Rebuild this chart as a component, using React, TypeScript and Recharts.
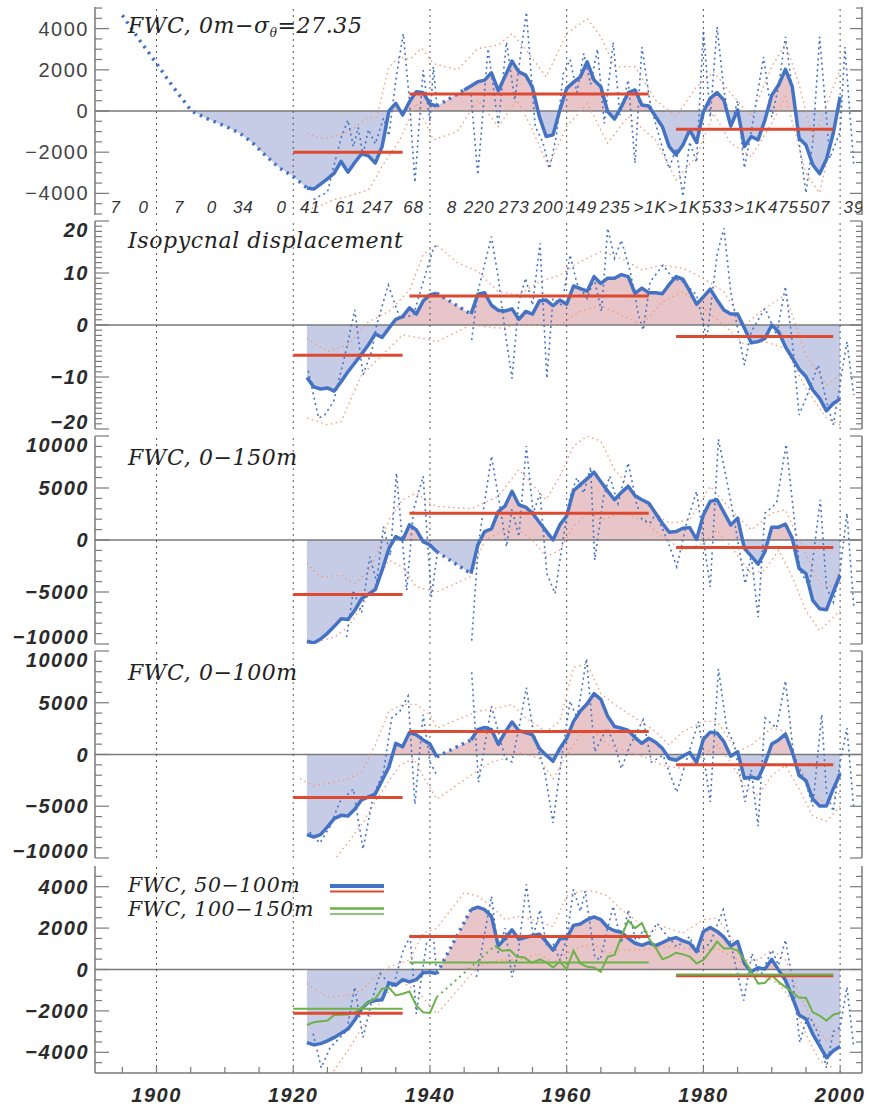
import React from 'react';
import { ComposedChart, Line, Area, XAxis, YAxis, ReferenceLine, Scatter } from 'recharts';

type Pt = [number, number];
type Seg = [number, number, number];

const FRAME = '#7a7a7a';
const BLUE = '#4573c4';
const RED = '#dc4a32';
const GREEN = '#6cb24a';
const ORANGE = '#ee9a78';
const PINK = '#e8c5c9';
const LAV = '#c6cce6';

const X_DOMAIN: [number, number] = [1891, 2003.2];
const X_TICKS = [1895, 1900, 1905, 1910, 1915, 1920, 1925, 1930, 1935, 1940, 1945, 1950, 1955, 1960, 1965, 1970, 1975, 1980, 1985, 1990, 1995, 2000];
const DECADES = [1900, 1920, 1940, 1960, 1980, 2000];

// profile counts per pentad (panel 1)
const countYears = [1894, 1898.1, 1903.3, 1908.1, 1912.7, 1918.3, 1922.5, 1927.6, 1932.3, 1937.6, 1943.2, 1947.2, 1952.3, 1957.3, 1962.2, 1967.1, 1972.2, 1977.2, 1982, 1986.9, 1991.7, 1996.3, 2002];
const countLabels = ['7', '0', '7', '0', '34', '0', '41', '61', '247', '68', '8', '220', '273', '200', '149', '235', '>1K', '>1K', '533', '>1K', '475', '507', '39'];

// ---- panel 1: FWC 0m - sigma 27.35
const p1Ext: Pt[] = [[1895, 4650], [1897.5, 3450], [1900, 2310], [1902.4, 1180], [1903.9, 530], [1905.1, 0], [1907.3, -350], [1910.2, -760], [1912.2, -1080], [1914.1, -1560], [1916.1, -2210], [1918, -2770], [1920, -3180], [1922, -3740]];
const p1A: Pt[] = [[1922, -3740], [1923, -3790], [1924, -3550], [1925, -3300], [1926, -3020], [1927, -2450], [1928, -2970], [1929, -2500], [1930, -2080], [1931, -2180], [1932, -2530], [1933, -1730], [1934, 0], [1935, 370], [1936, -190], [1937, 450], [1938, 940], [1939, 890], [1940, 340], [1941, 240]];
const p1B: Pt[] = [[1945, 1020], [1946, 1210], [1947, 1420], [1948, 1500], [1949, 1855], [1950, 985], [1951, 1700], [1952, 2420], [1953, 1900], [1954, 1740], [1955, 1145], [1956, -270], [1957, -1240], [1958, -1160], [1959, 50], [1960, 1100], [1961, 1400], [1962, 1660], [1963, 2390], [1964, 1500], [1965, 1180], [1966, -30], [1967, -390], [1968, 210], [1969, 890], [1970, 1020], [1971, 290], [1972, 240], [1973, -270], [1974, -760], [1975, -1730], [1976, -2130], [1977, -1650], [1978, -920], [1979, -1530], [1980, -30], [1981, 610], [1982, 890], [1983, 530], [1984, -730], [1985, 50], [1986, -1730], [1987, -1240], [1988, -1400], [1989, -440], [1990, 770], [1991, 1260], [1992, 2020], [1993, 1180], [1994, -1320], [1995, -1650], [1996, -2610], [1997, -3050], [1998, -2340], [1999, -1080], [2000, 690]];
const p1RawA: Pt[] = [[1923, -4300], [1924, -4100], [1925, -3950], [1926, -2600], [1927, -1300], [1928, -440], [1928.8, -1730], [1929.5, -800], [1930.2, -2100], [1931, -900], [1932, -1600], [1933.2, -350], [1934, -1200], [1935, 1500], [1936.1, 3760], [1937, 500], [1937.8, -3470], [1939, 1980], [1940, -500], [1940.5, 2150], [1941, 300]];
const p1RawB: Pt[] = [[1946, 800], [1947, -3100], [1948.5, 3030], [1950, -680], [1951.2, 3350], [1952.4, 530], [1953.2, 2600], [1954.1, 4800], [1955.4, -760], [1956.5, -1500], [1957.5, -2800], [1958.5, -1200], [1959.5, 1800], [1960.5, 2500], [1961.5, 900], [1962.5, 2800], [1963.5, 1300], [1964.5, 3000], [1965.5, -600], [1966.8, 3340], [1967.8, -200], [1969, 1500], [1970, -2530], [1971, 3110], [1972.2, 400], [1973, -600], [1974, -1800], [1975, -2800], [1976, -1800], [1977, -4150], [1978, -1500], [1979, -2500], [1980, 3920], [1981, -300], [1982, 4080], [1983, 1000], [1984, -800], [1985, 500], [1986, -2770], [1987, -1000], [1988.8, 2630], [1990, -300], [1991, 1200], [1992, 3600], [1993.7, -800], [1995, -3980], [1996, -1500], [1997, 3600], [1998.5, -2300], [2000, -1000], [2000.7, 3110], [2002, -2610]];
const p1Up: Pt[] = [[1922, -1100], [1924, -1320], [1926, -1240], [1928.3, -1000], [1930.7, -350], [1932.2, -300], [1934, 2140], [1935.6, 2630], [1937, 2500], [1938.8, 3050], [1940.5, 2300], [1944, 2000], [1947, 3030], [1950, 3200], [1952, 3760], [1954, 3000], [1957, 1660], [1960, 3760], [1963, 4480], [1965, 3600], [1967, 2150], [1970, 2150], [1973, 530], [1976, -270], [1979, 1180], [1981.5, 1900], [1984, 860], [1987, -270], [1990, 2150], [1992, 3270], [1994, 1300], [1996, -1400], [1998, 300], [2000, 2000]];
const p1Lo: Pt[] = [[1922, -4800], [1924, -4600], [1926, -4300], [1928, -4150], [1931, -3830], [1933, -2690], [1935.6, -1400], [1938, 370], [1940.5, -1400], [1944, -1000], [1947, 530], [1950, -760], [1952.7, 530], [1954.6, -630], [1957.3, -2690], [1960, -760], [1963, 370], [1966, -1560], [1969, -270], [1973, -1400], [1976, -3340], [1979, -2210], [1981.5, -110], [1984, -1560], [1987, -2210], [1990, -600], [1992, 690], [1995, -3020], [1997, -3980], [1999.5, -270]];
const p1Means: Seg[] = [[1920, 1936, -2000], [1937, 1972, 820], [1976, 1999, -890]];

// ---- panel 2: isopycnal displacement
const p2A: Pt[] = [[1922, -10.1], [1923, -11.9], [1924, -12.3], [1925, -12.1], [1926, -12.7], [1927, -10.9], [1928, -9.0], [1929, -7.3], [1930, -5.6], [1931, -3.8], [1932, -1.7], [1933, -2.4], [1934, -0.6], [1935, 1.1], [1936, 1.6], [1937, 3.3], [1938, 2.1], [1939, 4.6], [1940, 5.8], [1941, 6.1]];
const p2B: Pt[] = [[1946, 2.1], [1947, 5.9], [1948, 6.2], [1949, 3.8], [1950, 2.8], [1951, 2.7], [1952, 3.1], [1953, 1.1], [1954, 2.6], [1955, 2.1], [1956, 4.6], [1957, 4.8], [1958, 3.7], [1959, 4.8], [1960, 4.0], [1961, 7.5], [1962, 7.0], [1963, 6.5], [1964, 9.3], [1965, 8.0], [1966, 9.0], [1967, 9.0], [1968, 9.7], [1969, 9.3], [1970, 6.1], [1971, 7.1], [1972, 6.2], [1973, 6.2], [1974, 6.0], [1975, 7.8], [1976, 9.3], [1977, 8.8], [1978, 6.5], [1979, 4.0], [1980, 5.4], [1981, 6.9], [1982, 4.8], [1983, 2.9], [1984, 2.1], [1985, 2.1], [1986, -0.6], [1987, -3.4], [1988, -3.2], [1989, -2.6], [1990, 0], [1991, -1.3], [1992, -4.2], [1993, -6.3], [1994, -8.5], [1995, -9.9], [1996, -12.5], [1997, -14.1], [1998, -16.5], [1999, -15.1], [2000, -14.2]];
const p2RawA: Pt[] = [[1922.2, -8.8], [1923.7, -17.9], [1924.6, -17.3], [1925.9, -14.7], [1927.8, -4.5], [1929, 2.9], [1930.2, -9.6], [1931.5, -5], [1932.2, 0], [1933.9, 7.7], [1935.6, 1.3], [1937.6, 1.9], [1939, 8.3], [1940.5, 14.7], [1941, 15.4]];
const p2RawB: Pt[] = [[1946.1, -2.9], [1947, 6.4], [1949, 17], [1950, 9], [1951, -1.3], [1952, -10.3], [1953, 4.5], [1954, 9], [1955, 3.8], [1956.1, 15.7], [1957.1, -10.3], [1958, 5.1], [1959.3, 3.8], [1960.5, 13.5], [1961.5, 8], [1963, 5.1], [1964, 9], [1965.1, 2.6], [1966, 18.6], [1967, 12.8], [1968, 16.3], [1969.3, 10.3], [1970.5, 1.9], [1971.2, -1], [1972.2, 8.3], [1974.1, 11.5], [1975.5, 9], [1977, 8.3], [1979, 5.8], [1980.5, -2.6], [1982, 13.5], [1983, 18.6], [1984, 6.4], [1986, -7.7], [1987, -1.3], [1989, 3.2], [1990.7, -1.9], [1992, 7.4], [1993, -3.2], [1994, -17.3], [1995, -14.1], [1996.8, -7.7], [1998, -14.7], [1999, -19.2], [2001, -3.2], [2002, -13.5]];
const p2Up: Pt[] = [[1922, -2.6], [1925, -5.1], [1928, -3.8], [1931, 0.6], [1934, 2.6], [1937, 6.7], [1939, 13.5], [1940.5, 15], [1941, 15.4], [1944, 12], [1947, 10.3], [1950, 6.4], [1953, 5.8], [1956, 8.3], [1959, 9.6], [1962, 12.2], [1965, 14.1], [1968, 12.8], [1971, 10.6], [1974, 11.5], [1977, 10.9], [1980, 9], [1983, 6.4], [1986, 0], [1989, 3.2], [1992, 5.8], [1995, -5.8], [1998, -11.5], [2000, -9.6]];
const p2Lo: Pt[] = [[1922, -17.9], [1925, -19.2], [1927, -18.6], [1930, -9.6], [1933, -5.8], [1936, -1.9], [1939, -2.6], [1941, -3.2], [1946, 0], [1950, -0.6], [1953, 0], [1956, 0], [1959, 0], [1962, 2.6], [1965, 3.8], [1968, 1.9], [1971, 0], [1974, 4.5], [1977, 6.4], [1980, 3.2], [1983, 0], [1986, -3.8], [1989, -3.2], [1992, -4.5], [1995, -12.2], [1998, -17.9], [2000, -19.2]];
const p2Means: Seg[] = [[1920, 1936, -5.8], [1937, 1972, 5.6], [1976, 1999, -2.2]];

// ---- panel 3: FWC 0-150m
const p3A: Pt[] = [[1922, -9740], [1923, -9900], [1924, -9520], [1925, -8970], [1926, -8300], [1927, -7580], [1928, -7650], [1929, -6770], [1930, -5650], [1931, -5200], [1932, -4770], [1933, -2900], [1934, -810], [1935, 320], [1936, 0], [1937, 1450], [1938, 970], [1939, -160], [1940, -480], [1941, -1130]];
const p3B: Pt[] = [[1946, -3230], [1947, -480], [1948, 810], [1949, 1060], [1950, 2740], [1951, 3290], [1952, 4680], [1953, 3390], [1954, 3160], [1955, 2580], [1956, 1700], [1957, 850], [1958, 0], [1959, 1450], [1960, 2320], [1961, 4740], [1962, 5320], [1963, 5900], [1964, 6520], [1965, 5600], [1966, 4700], [1967, 3870], [1968, 4580], [1969, 5160], [1970, 4260], [1971, 3870], [1972, 3550], [1973, 2580], [1974, 1610], [1975, 740], [1976, 810], [1977, 1130], [1978, 1190], [1979, 60], [1980, 2420], [1981, 3710], [1982, 3870], [1983, 2650], [1984, 1450], [1985, 2100], [1986, -810], [1987, -1550], [1988, -2320], [1989, -1130], [1990, 1230], [1991, 1230], [1992, 1520], [1993, 160], [1994, -2740], [1995, -3230], [1996, -5810], [1997, -6610], [1998, -6710], [1999, -5000], [2000, -3390]];
const p3RawA: Pt[] = [[1927.8, -9350], [1928.8, -4840], [1930, -7000], [1931.2, -1610], [1932.2, -4000], [1933.2, 1290], [1934.2, -1500], [1935.1, 6450], [1936.6, -4840], [1937.6, 2900], [1939, 6130], [1940.2, -5480], [1941, -1610]];
const p3RawB: Pt[] = [[1946.1, -9680], [1947.1, -320], [1949, 8070], [1950, 4190], [1951.2, -640], [1952, 3000], [1953, 320], [1954.1, 9030], [1955.1, 2580], [1956.1, 4520], [1957.1, -3230], [1958.3, -5160], [1959.3, -640], [1960.5, 4190], [1961.5, 6000], [1962.5, 4500], [1963.5, 7000], [1964.1, -1940], [1965.4, 4190], [1966.3, 6130], [1967.5, 3500], [1969, 7420], [1970.2, 3550], [1971, 2000], [1972.2, 1610], [1973, 2500], [1974.1, 970], [1975, -500], [1976.1, -2580], [1977.5, 1500], [1979, 4680], [1981, -4520], [1982.2, 9680], [1983.4, 5810], [1984.5, 2000], [1986.1, -4190], [1987, -1500], [1988, -7420], [1989, 2580], [1990.7, 3550], [1992.1, 9190], [1993.2, 2580], [1994.1, -2900], [1995.5, -4500], [1997.1, 3870], [1998, -4520], [1999, -6000], [2000, -2900], [2001, 2580], [2002, -6450]];
const p3Up: Pt[] = [[1922, -2260], [1924, -3550], [1927, -3400], [1929, -4190], [1931, -3000], [1932.5, -1000], [1934, 1940], [1936, 3870], [1938, 4520], [1940, 3550], [1941, 3230], [1946, 3000], [1950, 4190], [1953, 6770], [1957, 3870], [1959, 6130], [1961, 9030], [1963, 10000], [1965, 9500], [1967, 6770], [1970, 4520], [1973, 2580], [1975, 1610], [1978, 1940], [1981, 5160], [1984, 2900], [1987, 970], [1990, 2580], [1992, 2900], [1994, 0], [1997, -4190], [1999, -4500], [2000, -2900]];
const p3Lo: Pt[] = [[1922, -10000], [1926, -9350], [1928, -8390], [1930, -6450], [1932, -4190], [1934, -1940], [1936, -2580], [1938, -4500], [1941, -5000], [1946, -3500], [1948, 0], [1951, 970], [1953, 970], [1955, 0], [1957, -1610], [1959, -970], [1961, 1290], [1963, 2580], [1965, 1940], [1968, 2580], [1971, 1940], [1974, 320], [1977, -970], [1980, -320], [1982, 970], [1984, -640], [1987, -3230], [1989, -2900], [1991, -970], [1993, -3550], [1995, -6770], [1997, -8710], [1999, -7420], [2000, -6770]];
const p3Means: Seg[] = [[1920, 1936, -5230], [1937, 1972, 2580], [1976, 1999, -710]];

// ---- panel 4: FWC 0-100m
const p4A: Pt[] = [[1922, -7750], [1923, -7970], [1924, -7750], [1925, -7000], [1926, -6200], [1927, -5880], [1928, -5950], [1929, -5290], [1930, -4380], [1931, -4100], [1932, -3820], [1933, -2520], [1934, -1210], [1935, 1080], [1936, 750], [1937, 2120], [1938, 1900], [1939, 1410], [1940, 1010], [1941, -230]];
const p4B: Pt[] = [[1946, 1410], [1947, 2390], [1948, 2610], [1949, 2390], [1950, 980], [1951, 2160], [1952, 3140], [1953, 2290], [1954, 2120], [1955, 1900], [1956, 590], [1957, -70], [1958, -650], [1959, 590], [1960, 1570], [1961, 3200], [1962, 4200], [1963, 4900], [1964, 5880], [1965, 5330], [1966, 3690], [1967, 2710], [1968, 2550], [1969, 2320], [1970, 1630], [1971, 1080], [1972, 1570], [1973, 1180], [1974, 590], [1975, -390], [1976, -560], [1977, -160], [1978, 200], [1979, -780], [1980, 1470], [1981, 2160], [1982, 2060], [1983, 1240], [1984, -160], [1985, 260], [1986, -2290], [1987, -2190], [1988, -2350], [1989, -880], [1990, 1010], [1991, 1410], [1992, 1960], [1993, 260], [1994, -2030], [1995, -2520], [1996, -4310], [1997, -4970], [1998, -4970], [1999, -3330], [2000, -1860]];
const p4RawA: Pt[] = [[1922.4, -7500], [1923.9, -8560], [1925.4, -6930], [1926.8, -4580], [1928.8, -3330], [1930.2, -9150], [1931.7, -3990], [1933.2, -1700], [1934.4, 3530], [1935.6, 4180], [1936.8, 5650], [1937.8, -4800], [1939, 3860], [1940, -720], [1941, -2000]];
const p4RawB: Pt[] = [[1946.1, 7940], [1947.1, -2680], [1949, 4670], [1950, 2220], [1951, -400], [1952, -720], [1953, 2500], [1954.1, 6470], [1955.1, 2220], [1956.8, -1700], [1958, -6600], [1959.3, -70], [1960.5, 5160], [1961.5, 3500], [1962.9, 9250], [1964.1, 260], [1965.9, 2550], [1967, 1000], [1968, -1370], [1969.3, 920], [1971.2, 3370], [1972.4, -720], [1974.1, -70], [1976.1, -3660], [1977.6, -390], [1979.3, 3200], [1981, -4580], [1982.2, 8270], [1983.4, 2550], [1984.5, 1000], [1986.1, -4580], [1987, -1500], [1988, -6930], [1989, 3530], [1990.7, 2550], [1992, 7120], [1993.2, -70], [1995.1, -3000], [1996, -5000], [1997.3, 3860], [1998, -3660], [1999, -5500], [2000, -720], [2001, 2550], [2002, -5290]];
const p4Up: Pt[] = [[1921, -2350], [1923, -3010], [1926, -2680], [1928, -2350], [1930, -1700], [1932, 920], [1934, 4180], [1936, 4840], [1938, 4840], [1940, 3860], [1941, 2550], [1947, 4180], [1950, 4510], [1952, 4840], [1954, 3530], [1957, 2220], [1959, 3200], [1961, 8430], [1963, 8760], [1965, 5880], [1967, 4840], [1970, 3530], [1973, 2220], [1975, 920], [1977, 2220], [1980, 3200], [1982, 3200], [1985, 260], [1987, 920], [1990, 2550], [1992, 2220], [1994, -1050], [1996, -3990], [1998, -4640], [2000, -3660]];
const p4Lo: Pt[] = [[1925.9, -10300], [1927, -9350], [1928.3, -8240], [1930.2, -6600], [1932.2, -4310], [1933.9, -2680], [1935.6, -1050], [1937.6, -390], [1939.5, -2680], [1941, -4310], [1946, -2000], [1949, -720], [1951, -390], [1953, 260], [1956, -390], [1958, -2350], [1960, -70], [1962, 1900], [1964, 2220], [1966, 920], [1969, 260], [1972, -390], [1974, -1050], [1977, -1370], [1980, -70], [1982, 920], [1984, -720], [1986, -3010], [1988, -3990], [1990, -2030], [1992, -1050], [1994, -3330], [1996, -5950], [1998, -6440], [2000, -5000]];
const p4Means: Seg[] = [[1920, 1936, -4150], [1937, 1972, 2220], [1976, 1999, -980]];

// ---- panel 5: FWC 50-100m (blue) and 100-150m (green)
const p5A: Pt[] = [[1922, -3530], [1923, -3640], [1924, -3580], [1925, -3450], [1926, -3280], [1927, -3080], [1928, -2880], [1929, -2440], [1930, -1900], [1931, -1580], [1932, -1500], [1933, -1460], [1934, -650], [1935, -760], [1936, -490], [1937, -600], [1938, -490], [1939, -160], [1940, -130], [1941, -200]];
const p5B: Pt[] = [[1946, 2890], [1947, 3010], [1948, 2890], [1949, 2570], [1950, 1140], [1951, 1510], [1952, 1920], [1953, 1460], [1954, 1560], [1955, 1630], [1956, 1710], [1957, 1350], [1958, 940], [1959, 1480], [1960, 1510], [1961, 2130], [1962, 2200], [1963, 2410], [1964, 2540], [1965, 2410], [1966, 2030], [1967, 1870], [1968, 1800], [1969, 1510], [1970, 1270], [1971, 1170], [1972, 1300], [1973, 1150], [1974, 1300], [1975, 1460], [1976, 1540], [1977, 1380], [1978, 1270], [1979, 860], [1980, 1840], [1981, 2030], [1982, 1840], [1983, 1560], [1984, 1140], [1985, 1350], [1986, 290], [1987, -110], [1988, 80], [1989, 20], [1990, 490], [1991, -30], [1992, -520], [1993, -1330], [1994, -2200], [1995, -2390], [1996, -3120], [1997, -3690], [1998, -4260], [1999, -3930], [2000, -3720]];
const p5RawA: Pt[] = [[1922.9, -3100], [1924.1, -4750], [1925.4, -3770], [1927.8, -2970], [1929, -850], [1930.2, -3280], [1931.5, -1500], [1932.7, -200], [1934.6, -850], [1936.1, 940], [1937.1, 1590], [1938, -2150], [1939.5, 1270], [1940.5, 1590], [1941, -200]];
const p5RawB: Pt[] = [[1946.8, -360], [1947.3, 490], [1949, 3540], [1950, 780], [1951, 2000], [1952, -360], [1952.9, 780], [1954.1, 4110], [1955.1, 1590], [1956.1, 2890], [1957.1, 1100], [1958, 1270], [1959, 460], [1960, 1500], [1961, 3870], [1962, 2800], [1962.7, 3790], [1964.1, 620], [1964.9, 460], [1966, 2000], [1966.8, 3060], [1968, 1270], [1969, 2890], [1970.2, 1270], [1971.2, 1920], [1972, 1500], [1973.2, 2240], [1974.5, 1700], [1976.1, 1100], [1978, 1590], [1979, 800], [1981, 1270], [1982.9, 2890], [1984.1, 1100], [1985.9, -1500], [1987.1, 780], [1988.3, -360], [1990, 940], [1991, 200], [1992, 1430], [1993.2, -850], [1994.1, -3530], [1995, -2500], [1995.6, -2300], [1996.8, -3120], [1998, -4750], [1999, -3000], [2000, -2800], [2001, -850], [2002, -3770]];
const p5Up: Pt[] = [[1922, -680], [1925, -1330], [1928, -1250], [1930, -1000], [1932, -360], [1934, 130], [1937, 460], [1939, 1760], [1941, 2000], [1945, 3710], [1947, 3540], [1949, 3050], [1951, 2410], [1953, 2570], [1955, 2410], [1958, 2080], [1960, 3540], [1962, 3790], [1964, 3790], [1966, 3540], [1968, 2890], [1970, 2410], [1972, 1760], [1974, 2080], [1977, 1760], [1980, 2410], [1982, 2490], [1984, 1590], [1986, 460], [1988, 460], [1990, 940], [1992, 460], [1994, -1170], [1996, -2470], [1998, -3450], [2000, -2970]];
const p5Lo: Pt[] = [[1925.9, -4910], [1928, -3900], [1930.7, -2470], [1933.7, -1170], [1935.6, -520], [1938.5, -1170], [1941, -2150], [1947, 130], [1950, 460], [1953, 460], [1956, 780], [1958, 290], [1960, 780], [1962, 1100], [1964, 1190], [1966, 780], [1968, 940], [1971, 940], [1974, 1100], [1977, 1020], [1980, 940], [1982, 1020], [1985, 460], [1987, -30], [1989, -360], [1991, -680], [1993, -1500], [1995, -3120], [1997, -4420], [1999, -4750]];
const p5Means: Seg[] = [[1920, 1936, -2110], [1937, 1972, 1590], [1976, 1999, -300]];
const p5GreenA: Pt[] = [[1922, -2680], [1923, -2550], [1924, -2500], [1925, -2470], [1926, -2200], [1927, -2190], [1928, -2180], [1929, -2070], [1930, -1870], [1931, -1580], [1932, -1410], [1933, -930], [1934, -880], [1935, -1250], [1936, -1170], [1937, -1060], [1938, -1740], [1939, -2070], [1940, -2100], [1941, -1330]];
const p5GreenB: Pt[] = [[1949.5, 1140], [1950.5, 910], [1951.7, 940], [1952.7, 620], [1953.7, 590], [1954.9, 330], [1956.1, 490], [1957.1, 330], [1958, 100], [1959, 370], [1960, 20], [1961, 910], [1962, 290], [1963, 130], [1964, 100], [1965, -110], [1966, 620], [1967, 700], [1968, 1590], [1969, 2360], [1970, 2000], [1971, 2240], [1972, 1510], [1973, 1070], [1974, 490], [1975, 620], [1976, 810], [1977, 730], [1978, 620], [1979, 290], [1980, 460], [1981, 890], [1982, 1350], [1983, 1020], [1984, 1020], [1985, 910], [1986, 460], [1987, -110], [1988, -680], [1989, -650], [1990, -280], [1991, -600], [1992, -850], [1993, -1090], [1994, -1370], [1995, -1370], [1996, -2070], [1997, -2230], [1998, -2470], [1999, -2180], [2000, -2100]];
const p5GreenMeans: Seg[] = [[1920, 1936, -1900], [1937, 1972, 340], [1976, 1999, -240]];

const toXY = (a: Pt[]) => a.map(([x, y]) => ({ x, y }));
const range = (a: number, b: number, s: number) => {
  const r: number[] = [];
  for (let v = a; v <= b + 1e-9; v += s) r.push(Math.round(v * 1000) / 1000);
  return r;
};
const fmt = (v: number) => (v < 0 ? '\u2212' + Math.abs(v) : String(v));

const labelFont = (bold: boolean): React.CSSProperties => ({
  fontFamily: '"Liberation Sans", Arial, sans-serif',
  fontSize: 20,
  fontWeight: bold ? 700 : 400,
  fontStyle: bold ? 'italic' : 'normal',
  letterSpacing: 1.5,
  fill: bold ? '#2a2a2a' : '#444',
});

interface PanelProps {
  id: string;
  top: number;
  height: number;
  domain: [number, number];
  majors: number[];
  ticks: number[];
  bold: boolean;
  ext?: Pt[];
  a: Pt[];
  b: Pt[];
  rawA: Pt[];
  rawB: Pt[];
  up: Pt[];
  lo: Pt[];
  means: Seg[];
  greenA?: Pt[];
  greenB?: Pt[];
  greenMeans?: Seg[];
  last?: boolean;
  counts?: boolean;
}

function Panel(p: PanelProps) {
  const axisH = p.last ? 32 : 0;
  const padB = p.last ? 0 : 6;
  const fillPts = toXY([...(p.ext ? p.ext.filter(([, v]) => v <= 0) : []), ...p.a, ...p.b]);
  const vals = fillPts.map((d) => d.y);
  const hi = Math.max(...vals);
  const lo = Math.min(...vals);
  const off = hi <= 0 ? 0 : lo >= 0 ? 1 : hi / (hi - lo);
  const gap = toXY([p.a[p.a.length - 1], p.b[0]]);
  const countPts = countYears.map((x, i) => ({ x, y: p.domain[0] * 0.98, t: countLabels[i] }));

  const leftTick = (t: any) => {
    const v = t.payload.value;
    const major = p.majors.includes(v);
    const dy = v === p.domain[1] ? 16 : v === p.domain[0] ? 0 : 7;
    return (
      <g>
        <line x1={t.x} x2={t.x + (major ? 14 : 7)} y1={t.y} y2={t.y} stroke={FRAME} strokeWidth={1.2} />
        {major && (
          <text x={t.x - 6} y={t.y + dy} textAnchor="end" style={labelFont(p.bold)}>
            {fmt(v)}
          </text>
        )}
      </g>
    );
  };
  const rightTick = (t: any) => {
    const major = p.majors.includes(t.payload.value);
    return <line x1={t.x} x2={t.x - (major ? 12 : 6)} y1={t.y} y2={t.y} stroke={FRAME} strokeWidth={1.2} />;
  };
  const bottomTick = (t: any) => {
    const v = t.payload.value;
    return (
      <g>
        <line x1={t.x} x2={t.x} y1={t.y} y2={t.y - 6} stroke={FRAME} strokeWidth={1.2} />
        {p.last && v % 20 === 0 && (
          <text x={t.x} y={t.y + 29} textAnchor="middle" style={labelFont(true)}>
            {v}
          </text>
        )}
      </g>
    );
  };
  const topTick = (t: any) => <line x1={t.x} x2={t.x} y1={t.y} y2={t.y + 6} stroke={FRAME} strokeWidth={1.2} />;

  const thin = { type: 'linear' as const, dataKey: 'y', dot: false, activeDot: false, isAnimationActive: false };

  return (
    <div style={{ position: 'absolute', left: 0, top: p.top - 1 }}>
      <ComposedChart width={871} height={p.height + 1 + padB + axisH} margin={{ top: 1, right: 0, bottom: padB, left: 0 }}>
        <defs>
          <linearGradient id={`fill-${p.id}`} x1="0" y1="0" x2="0" y2="1">
            <stop offset={off} stopColor={PINK} />
            <stop offset={off} stopColor={LAV} />
          </linearGradient>
        </defs>
        <XAxis
          type="number"
          dataKey="x"
          domain={X_DOMAIN}
          allowDataOverflow
          ticks={X_TICKS}
          interval={0}
          height={axisH}
          tickSize={0}
          tickMargin={0}
          tickLine={false}
          axisLine={{ stroke: FRAME, strokeWidth: 1.5 }}
          tick={bottomTick}
        />
        <XAxis
          xAxisId="t"
          orientation="top"
          type="number"
          dataKey="x"
          domain={X_DOMAIN}
          allowDataOverflow
          ticks={X_TICKS}
          interval={0}
          height={0}
          tickSize={0}
          tickMargin={0}
          tickLine={false}
          axisLine={{ stroke: FRAME, strokeWidth: 1.5 }}
          tick={topTick}
        />
        <YAxis
          type="number"
          dataKey="y"
          domain={p.domain}
          allowDataOverflow
          ticks={p.ticks}
          interval={0}
          width={95}
          tickSize={0}
          tickMargin={0}
          tickLine={false}
          axisLine={{ stroke: FRAME, strokeWidth: 1.5 }}
          tick={leftTick}
        />
        <YAxis
          yAxisId="r"
          orientation="right"
          type="number"
          dataKey="y"
          domain={p.domain}
          allowDataOverflow
          ticks={p.ticks}
          interval={0}
          width={9}
          tickSize={0}
          tickMargin={0}
          tickLine={false}
          axisLine={{ stroke: FRAME, strokeWidth: 1.5 }}
          tick={rightTick}
        />
        <Area data={fillPts} type="linear" dataKey="y" baseValue={0} stroke="none" fill={`url(#fill-${p.id})`} fillOpacity={1} dot={false} activeDot={false} isAnimationActive={false} />
        <ReferenceLine y={0} stroke={FRAME} strokeWidth={1.5} />
        {DECADES.map((d) => (
          <ReferenceLine key={d} x={d} stroke="#555" strokeWidth={1} strokeDasharray="2 4" />
        ))}
        <Line {...thin} data={toXY(p.up)} stroke={ORANGE} strokeWidth={1.3} strokeDasharray="1.5 3.5" />
        <Line {...thin} data={toXY(p.lo)} stroke={ORANGE} strokeWidth={1.3} strokeDasharray="1.5 3.5" />
        <Line {...thin} data={toXY(p.rawA)} stroke={BLUE} strokeWidth={1.6} strokeDasharray="2 3.5" />
        <Line {...thin} data={toXY(p.rawB)} stroke={BLUE} strokeWidth={1.6} strokeDasharray="2 3.5" />
        {p.ext && <Line {...thin} data={toXY(p.ext)} stroke={BLUE} strokeWidth={3.5} strokeDasharray="2.5 5" />}
        <Line {...thin} data={gap} stroke={BLUE} strokeWidth={3.5} strokeDasharray="2.5 4.5" />
        <Line {...thin} data={toXY(p.a)} stroke={BLUE} strokeWidth={3.5} strokeLinejoin="round" />
        <Line {...thin} data={toXY(p.b)} stroke={BLUE} strokeWidth={3.5} strokeLinejoin="round" />
        {p.greenA && p.greenB && (
          <Line {...thin} data={toXY([p.greenA[p.greenA.length - 1], p.greenB[0]])} stroke={GREEN} strokeWidth={2} strokeDasharray="2 4" />
        )}
        {p.greenA && <Line {...thin} data={toXY(p.greenA)} stroke={GREEN} strokeWidth={2} />}
        {p.greenB && <Line {...thin} data={toXY(p.greenB)} stroke={GREEN} strokeWidth={2} />}
        {p.means.map(([x0, x1, v], i) => (
          <Line key={`m${i}`} {...thin} data={[{ x: x0, y: v }, { x: x1, y: v }]} stroke={RED} strokeWidth={3} />
        ))}
        {p.greenMeans &&
          p.greenMeans.map(([x0, x1, v], i) => (
            <Line key={`g${i}`} {...thin} data={[{ x: x0, y: v }, { x: x1, y: v }]} stroke={GREEN} strokeWidth={2} />
          ))}
        {p.counts && (
          <Scatter
            data={countPts}
            isAnimationActive={false}
            shape={(s: any) => (
              <text
                x={s.cx}
                y={s.cy}
                textAnchor="middle"
                style={{ fontFamily: '"Liberation Sans", Arial, sans-serif', fontStyle: 'italic', fontSize: 17, letterSpacing: 0.8, fill: '#333' }}
              >
                {s.payload.t}
              </text>
            )}
          />
        )}
      </ComposedChart>
    </div>
  );
}

const titleStyle: React.CSSProperties = {
  fontFamily: '"DejaVu Serif", serif',
  fontStyle: 'italic',
  fontSize: 22,
  letterSpacing: 0.6,
  fill: '#222',
};
const legendStyle: React.CSSProperties = { ...titleStyle, fontSize: 20.5 };

export default function App() {
  return (
    <div style={{ position: 'absolute', left: 0, top: 0, width: 871, height: 1106, background: '#fff', overflow: 'hidden' }}>
      <Panel id="p1" top={7} height={208} domain={[-5050, 5050]} majors={[-4000, -2000, 0, 2000, 4000]} ticks={range(-5000, 5000, 500)} bold={false}
        ext={p1Ext} a={p1A} b={p1B} rawA={p1RawA} rawB={p1RawB} up={p1Up} lo={p1Lo} means={p1Means} counts />
      <Panel id="p2" top={221} height={208} domain={[-20, 20]} majors={[-20, -10, 0, 10, 20]} ticks={range(-20, 20, 1)} bold
        a={p2A} b={p2B} rawA={p2RawA} rawB={p2RawB} up={p2Up} lo={p2Lo} means={p2Means} />
      <Panel id="p3" top={436} height={208} domain={[-10000, 10000]} majors={[-10000, -5000, 0, 5000, 10000]} ticks={range(-10000, 10000, 1000)} bold
        a={p3A} b={p3B} rawA={p3RawA} rawB={p3RawB} up={p3Up} lo={p3Lo} means={p3Means} />
      <Panel id="p4" top={651} height={207} domain={[-10000, 10000]} majors={[-10000, -5000, 0, 5000, 10000]} ticks={range(-10000, 10000, 1000)} bold
        a={p4A} b={p4B} rawA={p4RawA} rawB={p4RawB} up={p4Up} lo={p4Lo} means={p4Means} />
      <Panel id="p5" top={866} height={207} domain={[-5000, 5000]} majors={[-4000, -2000, 0, 2000, 4000]} ticks={range(-4500, 4500, 500)} bold
        a={p5A} b={p5B} rawA={p5RawA} rawB={p5RawB} up={p5Up} lo={p5Lo} means={p5Means}
        greenA={p5GreenA} greenB={p5GreenB} greenMeans={p5GreenMeans} last />
      <svg width={871} height={1106} style={{ position: 'absolute', left: 0, top: 0, pointerEvents: 'none' }}>
        <text x={128} y={33} style={titleStyle}>
          FWC, 0m{'\u2212'}σ<tspan fontSize={12} dy={4}>θ</tspan>
          <tspan dy={-4}>=27.35</tspan>
        </text>
        <text x={128} y={248} style={titleStyle}>Isopycnal displacement</text>
        <text x={128} y={465} style={titleStyle}>FWC, 0{'\u2212'}150m</text>
        <text x={128} y={680} style={titleStyle}>FWC, 0{'\u2212'}100m</text>
        <text x={128} y={892} style={legendStyle}>FWC, 50{'\u2212'}100m</text>
        <text x={128} y={916} style={legendStyle}>FWC, 100{'\u2212'}150m</text>
        <line x1={330} x2={384} y1={886} y2={886} stroke={BLUE} strokeWidth={4} />
        <line x1={330} x2={384} y1={891.5} y2={891.5} stroke={RED} strokeWidth={2} />
        <line x1={330} x2={384} y1={908.5} y2={908.5} stroke={GREEN} strokeWidth={2.5} />
        <line x1={330} x2={384} y1={914} y2={914} stroke={GREEN} strokeWidth={1.3} />
      </svg>
    </div>
  );
}
